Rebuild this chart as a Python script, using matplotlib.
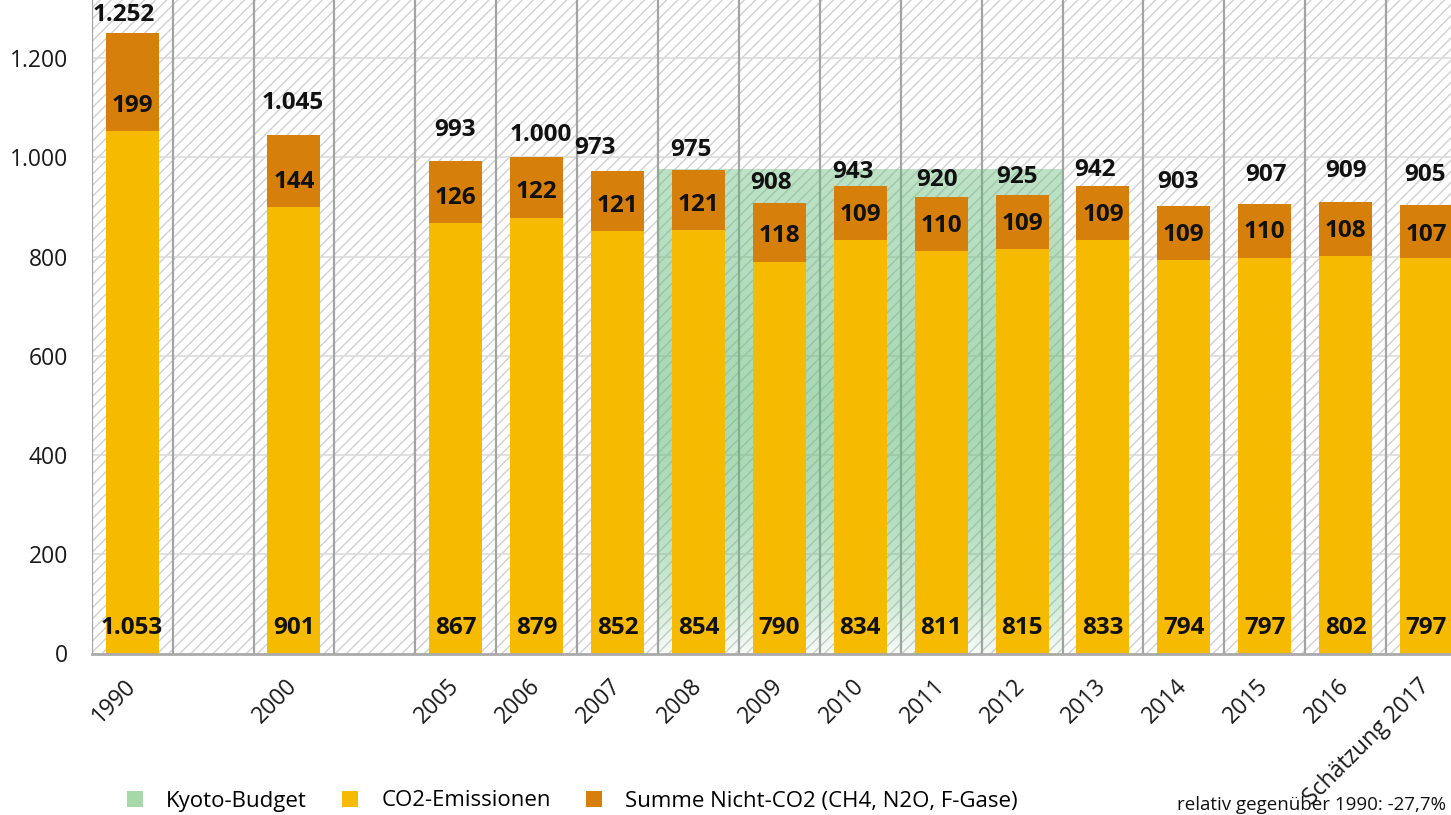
import numpy as np
import matplotlib
matplotlib.use("Agg")
import matplotlib.pyplot as plt
from matplotlib.patches import Rectangle
from matplotlib.lines import Line2D

# ---------------- data ----------------
categories = ['1990', '', '2000', '', '2005', '2006', '2007', '2008', '2009',
              '2010', '2011', '2012', '2013', '2014', '2015', '2016', 'Schätzung 2017']
co2 = [1053, None, 901, None, 867, 879, 852, 854, 790, 834, 811, 815, 833, 794, 797, 802, 797]
non_co2 = [199, None, 144, None, 126, 122, 121, 121, 118, 109, 110, 109, 109, 109, 110, 108, 107]
totals = [1252, None, 1045, None, 993, 1000, 973, 975, 908, 943, 920, 925, 942, 903, 907, 909, 905]
kyoto_budget = 974
kyoto_period = ['2008', '2012']
yticks = [0, 200, 400, 600, 800, 1000, 1200]
legend_labels = ['Kyoto-Budget', 'CO2-Emissionen', 'Summe Nicht-CO2 (CH4, N2O, F-Gase)']
footnote = 'relativ gegenüber 1990: -27,7%'

# ---------------- style ----------------
C_CO2 = '#F6BB00'
C_NON = '#D6800B'
C_KYOTO = '#62BA78'
C_KYOTO_LEG = '#A6D8A8'
C_VLINE = '#A3A3A3'
C_HGRID = '#DCDCDC'
C_HATCH = '#D0D0D0'
FONT = 'Open Sans'
FS = 16
FS_TICK = 16.5
FS_LAB = 17.5
# label offsets in pixels (style only)
tot_dx = [-8, 0, -1, 0, -1, 4, -23, -8, -8, -7, -4, -5, -8, -6, 1, 0, -2]
tot_dy = [17.5, 0, 32, 0, 31, 22.5, 23, 20, 20, 14, 17, 18, 16, 24, 29, 31, 30]
non_dy = [24, 0, 11, 0, 6, 4.5, 5, 5, 4, 2, 2, 2, 2, 2.5, 1.5, 2, 3]

plt.rcParams['font.family'] = [FONT, 'DejaVu Sans']
plt.rcParams['hatch.linewidth'] = 1.0

W, H = 1451, 815
fig = plt.figure(figsize=(W / 100, H / 100), dpi=100)
ax_left, ax_bottom_px, slot_px = 91.7, 653.5, 80.9
n = len(categories)
ax = fig.add_axes([ax_left / W, (H - ax_bottom_px) / H, n * slot_px / W, ax_bottom_px / H])
ymax = ax_bottom_px / 0.496
ax.set_xlim(-0.5, n - 0.5)
ax.set_ylim(0, ymax)

# hatched background
bg = Rectangle((0, 0), 1, 1, transform=ax.transAxes, facecolor='white',
               edgecolor=C_HATCH, hatch='///', linewidth=0, zorder=0)
ax.add_patch(bg)

# horizontal grid
for t in yticks[1:]:
    ax.axhline(t, color=C_HGRID, lw=1.2, zorder=0.5)
# vertical separators
for b in np.arange(-0.5, n, 1.0):
    ax.axvline(b, color=C_VLINE, lw=1.6, zorder=0.6)

# Kyoto budget gradient area
k0 = categories.index(kyoto_period[0]) - 0.5
k1 = categories.index(kyoto_period[1]) + 0.5
N = 300
vals = np.linspace(kyoto_budget, 0, N)
alpha = np.interp(vals, [0, 100, 300, 500, kyoto_budget], [0.06, 0.3, 0.5, 0.56, 0.42])
rgb = matplotlib.colors.to_rgb(C_KYOTO)
img = np.zeros((N, 1, 4))
img[:, 0, :3] = rgb
img[:, 0, 3] = alpha
ax.imshow(img, extent=[k0, k1, 0, kyoto_budget], aspect='auto',
          interpolation='bilinear', zorder=1, origin='upper')

# bars
idx = [i for i, v in enumerate(co2) if v is not None]
x = np.array(idx)
co2_v = np.array([co2[i] for i in idx], float)
non_v = np.array([non_co2[i] for i in idx], float)
bw = 53 / slot_px
ax.bar(x, co2_v, width=bw, color=C_CO2, zorder=2, linewidth=0)
ax.bar(x, non_v, width=bw, bottom=co2_v, color=C_NON, zorder=2, linewidth=0)


def fmt(v):
    return f'{int(v):,}'.replace(',', '.')


px = 0.72  # points per pixel at dpi 100
for i in idx:
    c, nn, t = co2[i], non_co2[i], totals[i]
    ax.annotate(fmt(t), (i, c + nn), xytext=(tot_dx[i] * px, tot_dy[i] * px),
                textcoords='offset points', ha='center', va='center',
                fontsize=FS_LAB, fontweight='bold', color='#111111', zorder=4)
    ax.annotate(fmt(nn), (i, c + nn / 2), xytext=(0, -non_dy[i] * px),
                textcoords='offset points', ha='center', va='center',
                fontsize=FS_LAB, fontweight='bold', color='#111111', zorder=4)
    ax.annotate(fmt(c), (i, 0), xytext=(0, 25 * px),
                textcoords='offset points', ha='center', va='center',
                fontsize=FS_LAB, fontweight='bold', color='#111111', zorder=4)

# axes styling
for s in ['top', 'right', 'left']:
    ax.spines[s].set_visible(False)
ax.spines['bottom'].set_color('#AAAAAA')
ax.spines['bottom'].set_linewidth(2)
ax.spines['bottom'].set_zorder(5)
ax.set_yticks(yticks)
ax.set_yticklabels([fmt(t) for t in yticks])
ax.set_xticks(range(n))
ax.set_xticklabels(categories)
ax.tick_params(axis='y', length=0, pad=17, labelsize=FS_TICK, labelcolor='#1a1a1a')
ax.tick_params(axis='x', length=0, pad=21, labelsize=FS_TICK, labelcolor='#1a1a1a')
for lab in ax.get_xticklabels():
    lab.set_rotation(45)
    lab.set_ha('right')
    lab.set_va('center')
    lab.set_rotation_mode('anchor')

# legend
handles = [Line2D([], [], marker='s', linestyle='', markersize=11, color=c,
                  markeredgewidth=0) for c in [C_KYOTO_LEG, C_CO2, C_NON]]
fig.legend(handles, legend_labels, loc='center left', ncol=3,
           bbox_to_anchor=(124 / W, 1 - 801 / H), frameon=False, fontsize=FS,
           handlelength=1.0, handletextpad=0.9, columnspacing=1.45,
           borderaxespad=0, borderpad=0)

fig.text(1446 / W, 1 / H, footnote, fontsize=13.5, va='bottom', ha='right', color='#111111')

fig.savefig('out.png', dpi=100)
